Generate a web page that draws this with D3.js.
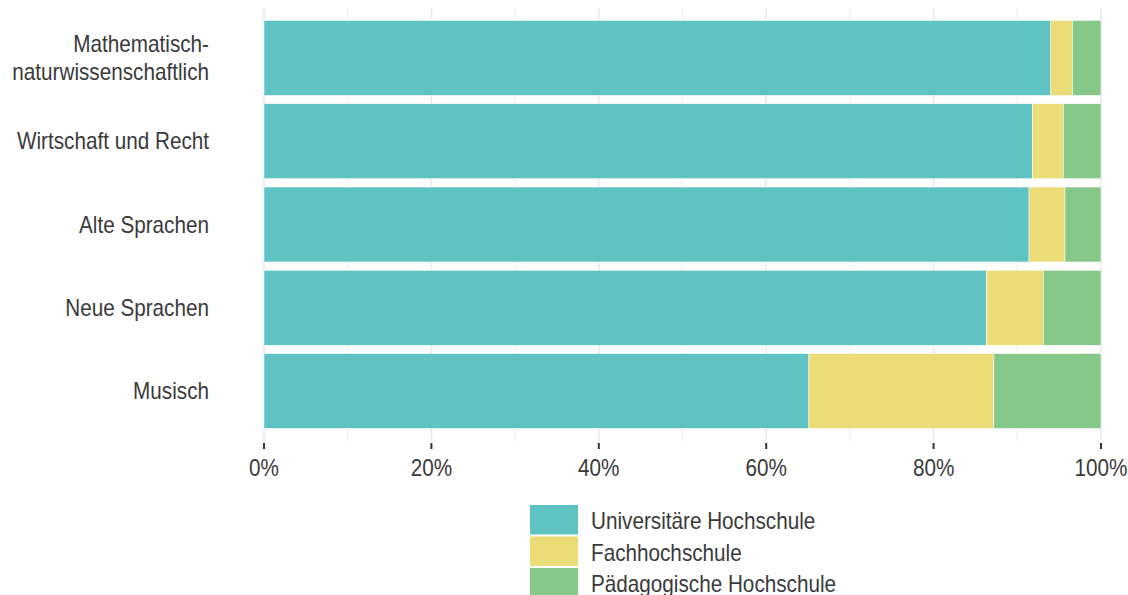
<!DOCTYPE html>
<html>
<head>
<meta charset="utf-8">
<script src="https://cdn.jsdelivr.net/npm/d3@7"></script>
<style>
  body { margin: 0; background: #fff; }
  text { font-family: "Liberation Sans", Arial, sans-serif; fill: #3a3a3a; }
</style>
</head>
<body>
<svg width="1128" height="595"></svg>
<script>
// data (percent)
var categories = ["Mathematisch-\nnaturwissenschaftlich", "Wirtschaft und Recht", "Alte Sprachen", "Neue Sprachen", "Musisch"];
var seriesNames = ["Universitäre Hochschule", "Fachhochschule", "Pädagogische Hochschule"];
var universitaer = [94.0, 91.8, 91.4, 86.3, 65.1];
var fachhochschule = [2.6, 3.7, 4.3, 6.8, 22.1];
var paedagogisch = [3.4, 4.5, 4.3, 6.9, 12.8];
var tickValues = [0, 20, 40, 60, 80, 100];
var colors = ["#60c3c3", "#ebdc78", "#86c78a"];

var svg = d3.select("svg");

var x = d3.scaleLinear().domain([0, 100]).range([264, 1101]);
var y = d3.scaleBand().domain(categories).range([8, 441])
  .paddingInner(0.1).paddingOuter(0.15);

// text in the original is a bit condensed
var fontSize = "23px";
function place(px, py) { return "translate(" + px + "," + py + ") scale(0.9,1)"; }

// build rows for stacking
var rows = categories.map(function (c, i) {
  return { cat: c, "Universitäre Hochschule": universitaer[i], "Fachhochschule": fachhochschule[i], "Pädagogische Hochschule": paedagogisch[i] };
});
var stacked = d3.stack().keys(seriesNames)(rows);

//grid lines, major and minor
var grid = svg.append("g");
d3.range(0, 101, 10).forEach(function (v) {
  var major = v % 20 === 0;
  grid.append("line")
    .attr("x1", x(v)).attr("x2", x(v))
    .attr("y1", 8).attr("y2", 441)
    .attr("stroke", "#ebebeb")
    .attr("stroke-width", major ? 1.7 : 0.8);
});

//bars
svg.append("g").selectAll("g")
  .data(stacked)
  .enter().append("g")
  .attr("fill", function (d, i) { return colors[i]; })
  .selectAll("rect")
  .data(function (d) { return d; })
  .enter().append("rect")
  .attr("x", function (d) { return x(d[0]); })
  .attr("width", function (d) { return x(d[1]) - x(d[0]); })
  .attr("y", function (d) { return y(d.data.cat); })
  .attr("height", y.bandwidth())
  .attr("stroke", "#ffffff")
  .attr("stroke-width", 0.5);

//x axis ticks and labels
var xa = svg.append("g");
xa.selectAll("line").data(tickValues).enter().append("line")
  .attr("x1", d => x(d)).attr("x2", d => x(d))
  .attr("y1", 443).attr("y2", 449)
  .attr("stroke", "#333").attr("stroke-width", 2);
xa.selectAll("text").data(tickValues).enter().append("text")
  .attr("transform", d => place(x(d), 476))
  .attr("text-anchor", "middle")
  .style("font-size", fontSize)
  .text(d => d + "%");

//y axis labels
var ya = svg.append("g");
ya.selectAll("text").data(categories).enter().append("text")
  .attr("text-anchor", "end")
  .style("font-size", fontSize)
  .attr("transform", function (c) { return place(209, y(c) + y.bandwidth() / 2 + 8); })
  .each(function (c) {
    var lines = c.split("\n");
    var t = d3.select(this);
    lines.forEach(function (l, j) {
      t.append("tspan")
        .attr("x", 0)
        .attr("y", (j - (lines.length - 1) / 2) * 28)
        .text(l);
    });
  });

//legend
var legend = svg.append("g");
seriesNames.forEach(function (s, i) {
  var top = 505 + i * 31.5;
  legend.append("rect")
    .attr("x", 530).attr("y", top)
    .attr("width", 48).attr("height", 29.5)
    .attr("fill", colors[i]);
  legend.append("text")
    .attr("transform", place(591, top + 24))
    .style("font-size", fontSize)
    .text(s);
});
</script>
</body>
</html>
